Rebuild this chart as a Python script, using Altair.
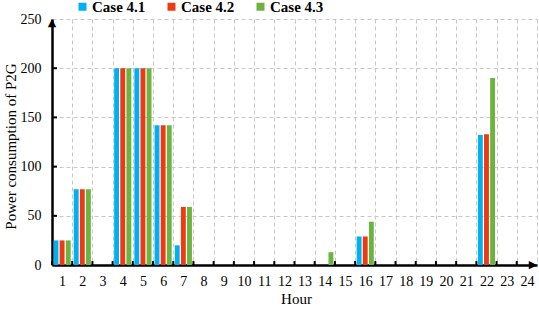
import altair as alt
import pandas as pd

hours = list(range(1, 25))
cases = ["Case 4.1", "Case 4.2", "Case 4.3"]
colors = ["#00B0F0", "#EE3A12", "#6DB33F"]
case41 = [25, 77, 0, 200, 200, 142, 20, 0, 0, 0, 0, 0, 0, 0, 0, 29, 0, 0, 0, 0, 0, 132, 0, 0]
case42 = [25, 77, 0, 200, 200, 142, 59, 0, 0, 0, 0, 0, 0, 0, 0, 29, 0, 0, 0, 0, 0, 133, 0, 0]
case43 = [25, 77, 0, 200, 200, 142, 59, 0, 0, 0, 0, 0, 0, 13, 0, 44, 0, 0, 0, 0, 0, 190, 0, 0]
y_ticks = [0, 50, 100, 150, 200, 250]

rows = []
for name, vals in zip(cases, [case41, case42, case43]):
    for h, v in zip(hours, vals):
        rows.append({"hour": h, "case": name, "value": v})
df = pd.DataFrame(rows)
hours_df = pd.DataFrame({"hour": hours, "lo": 0, "hi": 4})
yt_df = pd.DataFrame({"v": [t for t in y_ticks if 0 < t < 250]})
top_df = pd.DataFrame({"v": [max(y_ticks)]})
bottom_df = pd.DataFrame({"v": [min(y_ticks)]})

FONT = "Liberation Serif"


def xs():
    return alt.Scale(type="band", domain=hours, paddingInner=0, paddingOuter=0)


def ys():
    return alt.Scale(domain=[0, 250], nice=False)


x_axis = alt.Axis(title="Hour", labelAngle=0, ticks=False, tickBand="extent",
                  grid=True, labelPadding=9, titleX=244, titleY=33,
                  titleBaseline="middle")
y_axis = alt.Axis(title="Power consumption of P2G", values=y_ticks, ticks=False,
                  grid=True, labelPadding=11, titleX=-42, titleY=127,
                  titleBaseline="middle")

bars = alt.Chart(df).mark_bar().encode(
    x=alt.X("hour:O", scale=xs(), axis=x_axis),
    xOffset=alt.XOffset("case:N", sort=cases,
                        scale=alt.Scale(paddingInner=0.2, paddingOuter=0.25)),
    y=alt.Y("value:Q", scale=ys(), axis=y_axis),
    color=alt.Color("case:N", sort=cases,
                    scale=alt.Scale(domain=cases, range=colors),
                    legend=alt.Legend(title=None, orient="none", legendX=23, legendY=-20,
                                      direction="horizontal", columns=3,
                                      symbolType="square", symbolSize=64,
                                      symbolStrokeWidth=0, labelFont=FONT,
                                      labelFontSize=15, labelFontWeight="bold",
                                      labelColor="black", labelOffset=2,
                                      columnPadding=18, padding=0)),
)

xticks = alt.Chart(hours_df).mark_rule(color="black", strokeWidth=2).encode(
    x=alt.X("hour:O", bandPosition=0, scale=xs(), axis=x_axis),
    y=alt.Y("lo:Q", scale=ys(), axis=y_axis),
    y2=alt.Y2("hi:Q"),
)

yticks = alt.Chart(yt_df).mark_rule(color="black", strokeWidth=2).encode(
    y=alt.Y("v:Q", scale=ys(), axis=y_axis),
    x=alt.value(0),
    x2=alt.value(5),
)

up_arrow = alt.Chart(top_df).mark_text(text="▲", font="DejaVu Sans", fontSize=11,
                                       align="center", baseline="middle", dy=4,
                                       color="black").encode(
    y=alt.Y("v:Q", scale=ys(), axis=y_axis), x=alt.value(0)
)
right_arrow = alt.Chart(bottom_df).mark_text(text="▶", font="DejaVu Sans", fontSize=11,
                                             align="center", baseline="middle",
                                             color="black").encode(
    y=alt.Y("v:Q", scale=ys(), axis=y_axis), x=alt.value(481)
)

chart = alt.layer(xticks, yticks, up_arrow, right_arrow, bars).properties(
    width=485, height=246,
    padding={"left": 52, "top": 19, "right": 2, "bottom": 44},
    autosize="none",
).configure_view(strokeWidth=0).configure_axis(
    labelFont=FONT, labelFontSize=14, labelColor="black",
    titleFont=FONT, titleFontSize=15, titleFontWeight="normal", titleColor="black",
    domainColor="black", domainWidth=2.5,
    gridColor="#c8c8c8", gridDash=[4, 3], gridWidth=1,
).configure_legend(labelFont=FONT, labelFontWeight="bold", labelFontSize=15)

chart.save("out.html", embed_options={"renderer": "svg", "actions": False})
